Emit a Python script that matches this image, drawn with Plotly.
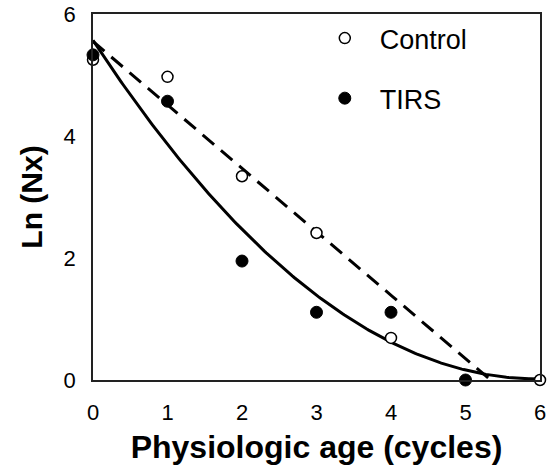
import numpy as np
import plotly.graph_objects as go

# Data
control_x = [0, 1, 2, 3, 4, 6]
control_y = [5.25, 4.97, 3.34, 2.41, 0.69, 0.0]
tirs_x = [0, 1, 2, 3, 4, 5]
tirs_y = [5.33, 4.57, 1.95, 1.11, 1.11, 0.0]

# Trend-line coefficients (highest power first)
control_trend = [-1.04, 5.55]            # linear
tirs_trend = [0.156, -1.861, 5.568]      # 2nd-order polynomial

x_ticks = [0, 1, 2, 3, 4, 5, 6]
y_ticks = [0, 2, 4, 6]

xs = np.linspace(0, 6, 241)

FONT = "Liberation Sans, Arial, sans-serif"

fig = go.Figure()

fig.add_trace(go.Scatter(
    x=xs, y=np.polyval(tirs_trend, xs), mode="lines",
    line=dict(color="black", width=3), showlegend=False, hoverinfo="skip"))
fig.add_trace(go.Scatter(
    x=xs, y=np.polyval(control_trend, xs), mode="lines",
    line=dict(color="black", width=3, dash="15px,9px"), showlegend=False,
    hoverinfo="skip"))

fig.add_trace(go.Scatter(
    x=control_x, y=control_y, mode="markers", name="Control",
    legendgroup="c", cliponaxis=False,
    marker=dict(symbol="circle", size=11, color="white",
                line=dict(color="black", width=1.5))))
fig.add_trace(go.Scatter(
    x=tirs_x, y=tirs_y, mode="markers", name="TIRS",
    legendgroup="t", cliponaxis=False,
    marker=dict(symbol="circle", size=12, color="black",
                line=dict(color="black", width=1))))

axis_common = dict(
    showgrid=False, zeroline=False, showline=True, mirror=True,
    linecolor="#222", linewidth=1.5, ticks="",
    ticklabeloverflow="allow",
    tickfont=dict(family=FONT, size=22, color="black"),
)

fig.update_layout(
    width=550, height=471,
    margin=dict(l=93, r=10, t=14, b=91, autoexpand=False),
    paper_bgcolor="white", plot_bgcolor="white",
    xaxis=dict(range=[0, 6], tickvals=x_ticks, ticklabelstandoff=12,
               title=dict(text="<b>Physiologic age (cycles)</b>",
                          font=dict(family=FONT, size=32, color="black"),
                          standoff=11),
               **axis_common),
    yaxis=dict(range=[0, 6], tickvals=y_ticks, ticklabelstandoff=11,
               title=dict(text="<b>Ln (Nx)</b>",
                          font=dict(family=FONT, size=30, color="black"),
                          standoff=12),
               **axis_common),
    legend=dict(x=0.485, y=1.0, xanchor="left", yanchor="top",
                bgcolor="rgba(0,0,0,0)", tracegroupgap=22,
                font=dict(family=FONT, size=27, color="black"),
                itemwidth=60),
    showlegend=True,
)

fig.write_html(
    "out.html",
    config={"displayModeBar": False},
    post_script="document.body.style.margin='0';document.body.style.overflow='hidden';",
)
